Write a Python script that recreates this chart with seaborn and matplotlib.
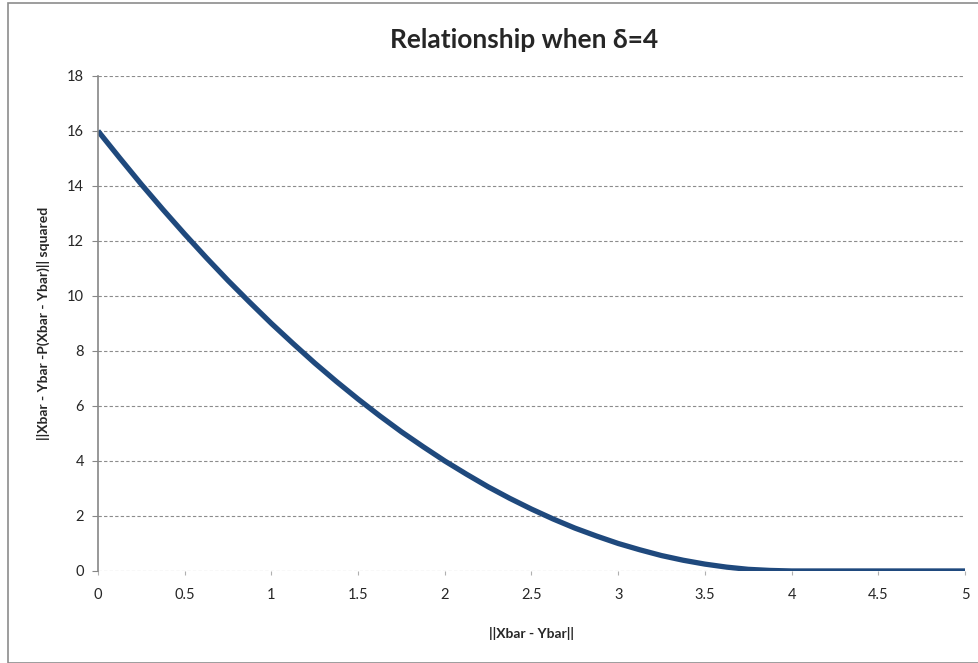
import matplotlib
matplotlib.use("Agg")
import matplotlib.pyplot as plt
import seaborn as sns
import pandas as pd
from matplotlib.patches import Rectangle

distance = [0.0, 0.125, 0.25, 0.375, 0.5, 0.625, 0.75, 0.875, 1.0, 1.125, 1.25, 1.375,
            1.5, 1.625, 1.75, 1.875, 2.0, 2.125, 2.25, 2.375, 2.5, 2.625, 2.75, 2.875,
            3.0, 3.125, 3.25, 3.375, 3.5, 3.625, 3.75, 3.875, 4.0, 4.25, 4.5, 4.75, 5.0]
sq_norm = [16.0, 15.02, 14.06, 13.14, 12.25, 11.39, 10.56, 9.77, 9.0, 8.27, 7.56, 6.89,
           6.25, 5.64, 5.06, 4.52, 4.0, 3.52, 3.06, 2.64, 2.25, 1.89, 1.56, 1.27,
           1.0, 0.77, 0.56, 0.39, 0.25, 0.14, 0.06, 0.02, 0.0, 0.0, 0.0, 0.0, 0.0]
x_ticks = [0, 0.5, 1, 1.5, 2, 2.5, 3, 3.5, 4, 4.5, 5]
x_tick_labels = ["0", "0.5", "1", "1.5", "2", "2.5", "3", "3.5", "4", "4.5", "5"]
y_ticks = [0, 2, 4, 6, 8, 10, 12, 14, 16, 18]

df = pd.DataFrame({"d": distance, "v": sq_norm})

sns.set_theme(style="white")
plt.rcParams["font.family"] = ["Lato", "DejaVu Sans"]

fig = plt.figure(figsize=(9.79, 6.63), dpi=100)
ax = fig.add_axes([0.1001, 0.1388, 0.8856, 0.7466])

sns.lineplot(data=df, x="d", y="v", ax=ax, color="#1F497D", linewidth=3.8,
             solid_capstyle="butt", solid_joinstyle="round")

ax.set_xlim(0, 5)
ax.set_ylim(0, 18)
ax.set_xticks(x_ticks)
ax.set_xticklabels(x_tick_labels)
ax.set_yticks(y_ticks)
ax.yaxis.grid(True, linestyle=(0, (3, 2)), color="#8c8c8c", linewidth=0.8)
ax.xaxis.grid(False)
ax.set_axisbelow(True)

for s in ["top", "right"]:
    ax.spines[s].set_visible(False)
ax.spines["bottom"].set_visible(False)
ax.spines["left"].set_color("#868686")
ax.spines["left"].set_linewidth(1.2)

ax.tick_params(axis="x", which="both", bottom=True, length=3, width=0.8,
               color="#b0b0b0", labelsize=10.5, pad=9, direction="out")
ax.tick_params(axis="y", which="both", left=True, length=4, width=0.8,
               color="#868686", labelsize=10.5, pad=6, direction="out")

ax.set_xlabel("||Xbar - Ybar||", fontsize=10, fontweight="bold", labelpad=18)
ax.set_ylabel("||Xbar - Ybar -P(Xbar - Ybar)|| squared", fontsize=10,
              fontweight="bold", labelpad=12)
fig.text(0.5355, 0.94, "Relationship when \u03b4=4", ha="center", va="center",
         fontsize=19, fontweight="bold")

fig.patches.append(Rectangle((0.008, 0.0), 0.995, 0.995, transform=fig.transFigure,
                             fill=False, edgecolor="#8c8c8c", linewidth=1.2))

fig.savefig("out.png", dpi=100)
